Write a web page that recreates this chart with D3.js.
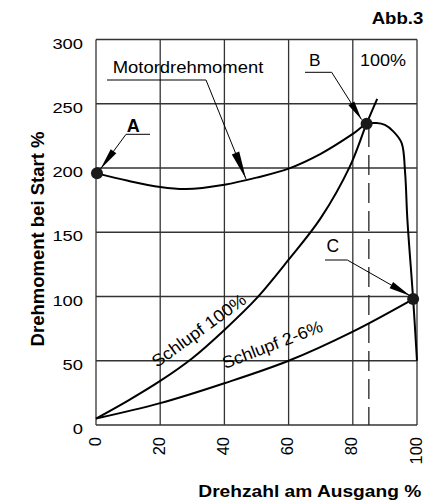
<!DOCTYPE html>
<html>
<head>
<meta charset="utf-8">
<script src="https://cdn.jsdelivr.net/npm/d3@7"></script>
<style>
  body { margin: 0; background: #fff; }
  svg text { font-family: "Liberation Sans", Arial, sans-serif; fill: #000; }
</style>
</head>
<body>
<div id="chart"></div>
<script>
// tick values
const xTicks = [0, 20, 40, 60, 80, 100];
const yTicks = [0, 50, 100, 150, 200, 250, 300];

// Motordrehmoment curve
const motorX = [0, 10, 20, 28, 40, 50, 60, 70, 80, 84.3, 87.4, 90, 92.6, 95.2, 96.3, 97, 98.8, 100];
const motorY = [196, 190, 185.2, 183.6, 187, 192.5, 199.5, 211, 226.5, 234.3, 235, 233.5, 228.5, 219.5, 196, 160, 98, 50];

// Schlupf 100%
const slip100X = [0, 10, 20, 30, 40, 50, 60, 70, 79.1, 84.3, 87.6];
const slip100Y = [5, 19, 34.3, 52, 74, 98.5, 128.6, 161, 201.3, 234.5, 253.8];

// Schlupf 2-6%
const slipLowX = [0, 20, 40, 60, 80, 98.8];
const slipLowY = [5, 17, 32.5, 50, 72.7, 98];

// marked points A, B, C
const pointNames = ["A", "B", "C"];
const pointX = [0.3, 84.3, 98.8];
const pointY = [196, 234.5, 98];

const ratedSpeed = 85; // dashed line "100%"

const width = 440, height = 502;
const mLeft = 96, mRight = 417, mTop = 39.5, mBottom = 425;

const svg = d3.select("#chart").append("svg")
  .attr("width", width)
  .attr("height", height);

const x = d3.scaleLinear().domain([0, 100]).range([mLeft, mRight]);
const y = d3.scaleLinear().domain([0, 300]).range([mBottom, mTop]);

// grid
const grid = svg.append("g").attr("stroke", "#333").attr("stroke-width", 1.3);
grid.selectAll(".hg").data(yTicks).enter().append("line")
  .attr("x1", x(0)).attr("x2", x(100))
  .attr("y1", d => y(d)).attr("y2", d => y(d));
grid.selectAll(".vg").data(xTicks).enter().append("line")
  .attr("x1", d => x(d)).attr("x2", d => x(d))
  .attr("y1", y(0)).attr("y2", y(300));

svg.append("line")
  .attr("x1", x(ratedSpeed)).attr("x2", x(ratedSpeed))
  .attr("y1", y(232)).attr("y2", y(0))
  .attr("stroke", "#222").attr("stroke-width", 1.3)
  .attr("stroke-dasharray", "20,8");

// axes
const yAxis = svg.append("g")
  .attr("transform", `translate(${mLeft},0)`)
  .call(d3.axisLeft(y).tickValues(yTicks).tickSize(0).tickPadding(13));
yAxis.select(".domain").remove();
yAxis.selectAll("text")
  .attr("dy", "0.55em")
  .style("font-size", "15.5px")
  .attr("textLength", d => String(d).length * 10.2)
  .attr("lengthAdjust", "spacingAndGlyphs");

const xAxis = svg.append("g")
  .attr("transform", `translate(0,${mBottom})`)
  .call(d3.axisBottom(x).tickValues(xTicks).tickSize(0));
xAxis.select(".domain").remove();
xAxis.selectAll("text")
  .attr("transform", "rotate(-90)")
  .attr("text-anchor", "end")
  .attr("x", -12)
  .attr("y", 4)
  .attr("dy", 0)
  .style("font-size", "16.5px");

// curves
const line = d3.line()
  .x(d => x(d[0]))
  .y(d => y(d[1]))
  .curve(d3.curveCatmullRom.alpha(0.5));

const series = [
  d3.zip(motorX, motorY),
  d3.zip(slip100X, slip100Y),
  d3.zip(slipLowX, slipLowY)
];
svg.selectAll(".curve").data(series).enter().append("path")
  .attr("d", line)
  .attr("fill", "none")
  .attr("stroke", "#000")
  .attr("stroke-width", 2);

svg.selectAll(".pt").data(pointNames).enter().append("circle")
  .attr("cx", (d, i) => x(pointX[i]))
  .attr("cy", (d, i) => y(pointY[i]))
  .attr("r", 6)
  .attr("fill", "#1a1a1a");

// leader lines with arrow heads
const leader = (pts, headLen, headW) => {
  svg.append("polyline")
    .attr("points", pts.map(p => p.join(",")).join(" "))
    .attr("fill", "none")
    .attr("stroke", "#000")
    .attr("stroke-width", 1);
  const [a, b] = pts.slice(-2);
  const ang = Math.atan2(b[1] - a[1], b[0] - a[0]);
  const bx = b[0] - headLen * Math.cos(ang), by = b[1] - headLen * Math.sin(ang);
  const nx = -Math.sin(ang) * headW, ny = Math.cos(ang) * headW;
  svg.append("polygon")
    .attr("points", [[b[0], b[1]], [bx + nx, by + ny], [bx - nx, by - ny]].map(p => p.join(",")).join(" "))
    .attr("fill", "#000");
};

leader([[107, 80], [206, 80], [246, 179]], 28, 4);
leader([[150, 134.3], [126, 134.3], [100.5, 169]], 22, 3.5);
leader([[305, 72.3], [331.7, 72.3], [361.5, 119.5]], 19, 3.5);
leader([[325, 260], [347.3, 260], [410.5, 296]], 22, 3.5);

// labels
const label = (txt, px, py, opts) => {
  const t = svg.append("text")
    .attr("x", px).attr("y", py)
    .text(txt)
    .style("font-size", (opts.size || 17) + "px")
    .style("font-weight", opts.bold ? "bold" : "normal")
    .attr("text-anchor", opts.anchor || "start");
  if (opts.len) t.attr("textLength", opts.len).attr("lengthAdjust", "spacingAndGlyphs");
  if (opts.rot) t.attr("transform", `rotate(${opts.rot},${px},${py})`);
  return t;
};

label("Abb.3", 371.7, 24, { size: 15.8, bold: true, len: 51.6 });
label("Motordrehmoment", 112.7, 73.3, { size: 17, len: 150.6 });
label("A", 133.3, 131.7, { size: 18, bold: true, anchor: "middle" });
label("B", 314.7, 65.7, { size: 17.3, anchor: "middle" });
label("100%", 360, 65.7, { size: 17, len: 46 });
label("C", 332.8, 252.3, { size: 17.5, anchor: "middle" });
label("Schlupf 100%", 157, 368, { size: 17, len: 112, rot: -36 });
label("Schlupf 2-6%", 225, 369, { size: 17, len: 106, rot: -21 });

label("Drehzahl am Ausgang %", 198.3, 497, { size: 16.3, bold: true, len: 223 });
label("Drehmoment bei Start %", 43.5, 239, { size: 18.5, bold: true, anchor: "middle", rot: -90 });
</script>
</body>
</html>
